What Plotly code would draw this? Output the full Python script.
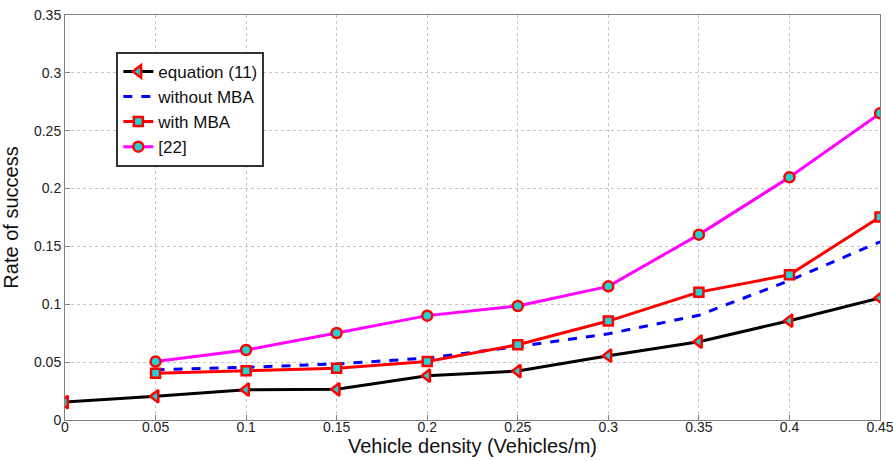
import plotly.graph_objects as go

x_all = [0, 0.05, 0.1, 0.15, 0.2, 0.25, 0.3, 0.35, 0.4, 0.45]
x_sim = [0.05, 0.1, 0.15, 0.2, 0.25, 0.3, 0.35, 0.4, 0.45]

eq11 = [0.0155, 0.0205, 0.0262, 0.0265, 0.0383, 0.0423, 0.0556, 0.0677, 0.0858, 0.1055]
without_mba = [0.0435, 0.0455, 0.0485, 0.0535, 0.0635, 0.0745, 0.0905, 0.1205, 0.154]
with_mba = [0.0405, 0.0425, 0.0448, 0.0505, 0.065, 0.0855, 0.1105, 0.1255, 0.1755]
ref22 = [0.0505, 0.0605, 0.0752, 0.0902, 0.0985, 0.1155, 0.1602, 0.2098, 0.265]

xticks = [0, 0.05, 0.1, 0.15, 0.2, 0.25, 0.3, 0.35, 0.4, 0.45]
xtick_text = ["0", "0.05", "0.1", "0.15", "0.2", "0.25", "0.3", "0.35", "0.4", "0.45"]
yticks = [0, 0.05, 0.1, 0.15, 0.2, 0.25, 0.3, 0.35]
ytick_text = ["0", "0.05", "0.1", "0.15", "0.2", "0.25", "0.3", "0.35"]

marker_fill = "#22d3d3"
FONT = "Liberation Sans, Arial"

fig = go.Figure()
fig.add_trace(go.Scatter(
    x=x_all, y=eq11, name="equation (11)", mode="lines+markers",
    line=dict(color="black", width=3),
    marker=dict(symbol="triangle-left", size=11, color=marker_fill,
                line=dict(color="red", width=2.5))))
fig.add_trace(go.Scatter(
    x=x_sim, y=without_mba, name="without MBA", mode="lines",
    line=dict(color="#0000ff", width=3, dash="dash")))
fig.add_trace(go.Scatter(
    x=x_sim, y=with_mba, name="with MBA", mode="lines+markers",
    line=dict(color="red", width=3),
    marker=dict(symbol="square", size=9, color=marker_fill,
                line=dict(color="red", width=2.5))))
fig.add_trace(go.Scatter(
    x=x_sim, y=ref22, name="[22]", mode="lines+markers",
    line=dict(color="#ff00ff", width=3),
    marker=dict(symbol="circle", size=10, color=marker_fill,
                line=dict(color="red", width=2.5))))

axis_common = dict(
    showline=True, linecolor="#808080", linewidth=1, mirror=True,
    ticks="inside", ticklen=5, tickcolor="#808080",
    showgrid=True, gridcolor="#c4c4c4", griddash="dot", gridwidth=1,
    zeroline=False, tickfont=dict(family=FONT, size=14, color="#222"),
    ticklabeloverflow="allow", automargin=False,
)

fig.update_xaxes(range=[0, 0.45], tickvals=xticks, ticktext=xtick_text,
                 ticklabelstandoff=-6,
                 title=dict(text="Vehicle density (Vehicles/m)", standoff=0,
                            font=dict(family=FONT, size=20, color="#111")),
                 **axis_common)
fig.update_yaxes(range=[0, 0.35], tickvals=yticks, ticktext=ytick_text,
                 title=dict(text="Rate of success", standoff=9,
                            font=dict(family=FONT, size=20, color="#111")),
                 **axis_common)

fig.update_layout(
    width=893, height=461,
    margin=dict(l=65, r=13, t=15, b=41),
    paper_bgcolor="white", plot_bgcolor="white",
    font=dict(family=FONT, color="#111"),
    legend=dict(x=0.063, y=0.909, xanchor="left", yanchor="top",
                bgcolor="white", bordercolor="#333", borderwidth=2,
                font=dict(size=17, color="#111"), tracegroupgap=0,
                itemwidth=30),
    showlegend=True,
)

fig.write_html("out.html", config={"displayModeBar": False},
               post_script="document.body.style.margin='0';document.body.style.overflow='hidden';")
